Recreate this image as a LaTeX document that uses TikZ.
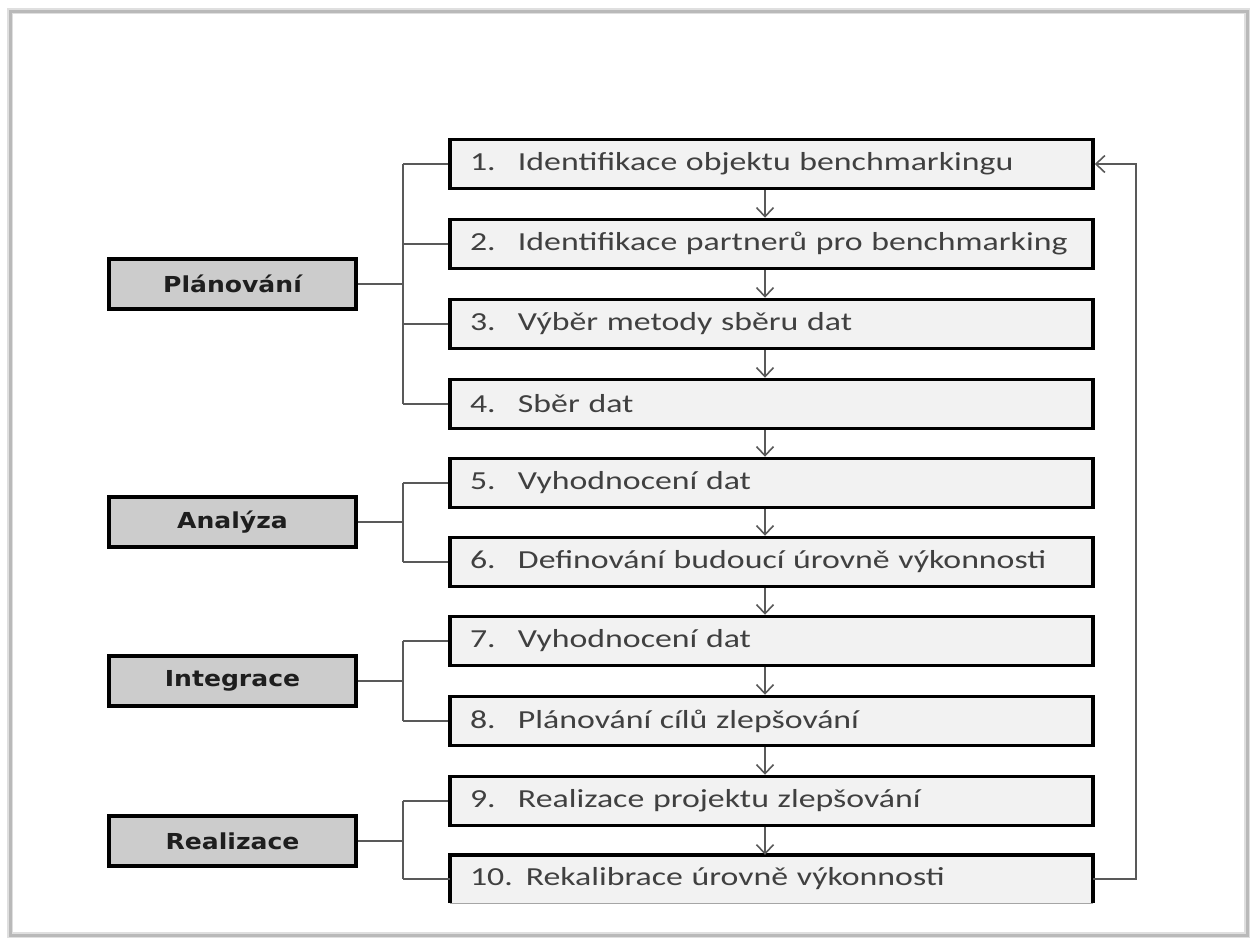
\documentclass[tikz,border=0pt]{standalone}
\usepackage{fontspec}
\usetikzlibrary{arrows.meta}
\newfontfamily\stepfont[FakeStretch=1.3]{Carlito}
\newfontfamily\phasefont[FakeStretch=1.14]{DejaVu Sans}
\definecolor{stepfill}{HTML}{F2F2F2}
\definecolor{phasefill}{HTML}{CCCCCC}
\definecolor{steptext}{HTML}{404040}
\definecolor{phasetext}{HTML}{1E1E1E}
\definecolor{conn}{HTML}{595959}
\tikzset{
  stepbox/.style={draw=black, line width=3.5pt, fill=stepfill, minimum width=643pt, minimum height=49pt,
    text width=603pt, inner xsep=20pt, align=left, text=steptext,
    font=\stepfont\fontsize{26}{30}\selectfont},
  lastbox/.style={fill=stepfill, minimum width=643pt, minimum height=48pt,
    text width=603pt, inner xsep=20pt, align=left, text=steptext,
    font=\stepfont\fontsize{26}{30}\selectfont},
  phasebox/.style={draw=black, line width=3.5pt, fill=phasefill, minimum width=247pt, minimum height=50pt,
    text=phasetext, font=\phasefont\bfseries\fontsize{22}{26}\selectfont},
  link/.style={draw=conn, line width=1.6pt},
  arr/.style={draw=conn, line width=1.6pt, -{Straight Barb[length=9pt,width=17pt]}},
  frameline/.style={draw=gray!55, line width=3pt}
}
\newcommand{\num}[1]{\makebox[48pt][l]{#1}}
\begin{document}
\begin{tikzpicture}[x=1pt,y=-1pt]
\useasboundingbox (0,0) rectangle (1254,938);
\fill[white] (0,0) rectangle (1254,938);
\draw[draw=gray!25, line width=6pt] (10,11) rectangle (1247,935);
\draw[frameline] (10,11) rectangle (1247,935);

% step boxes
\node[stepbox] (s1) at (771.5,164) {\num{1.}Identifikace objektu benchmarkingu};
\node[stepbox] (s2) at (771.5,244) {\num{2.}Identifikace partnerů pro benchmarking};
\node[stepbox] (s3) at (771.5,324) {\num{3.}Výběr metody sběru dat};
\node[stepbox] (s4) at (771.5,404) {\num{4.}Sběr dat};
\node[stepbox] (s5) at (771.5,483) {\num{5.}Vyhodnocení dat};
\node[stepbox] (s6) at (771.5,562) {\num{6.}Definování budoucí úrovně výkonnosti};
\node[stepbox] (s7) at (771.5,641) {\num{7.}Vyhodnocení dat};
\node[stepbox] (s8) at (771.5,721) {\num{8.}Plánování cílů zlepšování};
\node[stepbox] (s9) at (771.5,801) {\num{9.}Realizace projektu zlepšování};
\node[lastbox] (s10) at (771.5,879) {10. Rekalibrace úrovně výkonnosti};
\draw[black, line width=3.5pt] (s10.south west) -- (s10.north west) -- (s10.north east) -- (s10.south east);
\draw[gray!70, line width=1pt] (s10.south west) -- (s10.south east);

% phase boxes
\node[phasebox] (p1) at (232.5,284) {Plánování};
\node[phasebox] (p2) at (232.5,522) {Analýza};
\node[phasebox] (p3) at (232.5,681) {Integrace};
\node[phasebox] (p4) at (232.5,841) {Realizace};

% brackets
\coordinate (bx) at (403,0);
\draw[link] (p1.east) -- (p1.east -| bx);
\draw[link] (s1.west -| bx) -- (s4.west -| bx);
\foreach \s in {s1,s2,s3,s4} \draw[link] (\s.west -| bx) -- (\s.west);
\draw[link] (p2.east) -- (p2.east -| bx);
\draw[link] (s5.west -| bx) -- (s6.west -| bx);
\foreach \s in {s5,s6} \draw[link] (\s.west -| bx) -- (\s.west);
\draw[link] (p3.east) -- (p3.east -| bx);
\draw[link] (s7.west -| bx) -- (s8.west -| bx);
\foreach \s in {s7,s8} \draw[link] (\s.west -| bx) -- (\s.west);
\draw[link] (p4.east) -- (p4.east -| bx);
\draw[link] (s9.west -| bx) -- (s10.west -| bx);
\foreach \s in {s9,s10} \draw[link] (\s.west -| bx) -- (\s.west);

% flow arrows
\foreach \a/\b in {s1/s2,s2/s3,s3/s4,s4/s5,s5/s6,s6/s7,s7/s8,s8/s9,s9/s10}
  \draw[arr] ([xshift=-6.5pt]\a.south) -- ([xshift=-6.5pt]\b.north);

% feedback
\coordinate (fb) at (1136,0);
\draw[arr] (s10.east) -- (s10.east -| fb) -- (s1.east -| fb) -- (s1.east);
\end{tikzpicture}
\end{document}
